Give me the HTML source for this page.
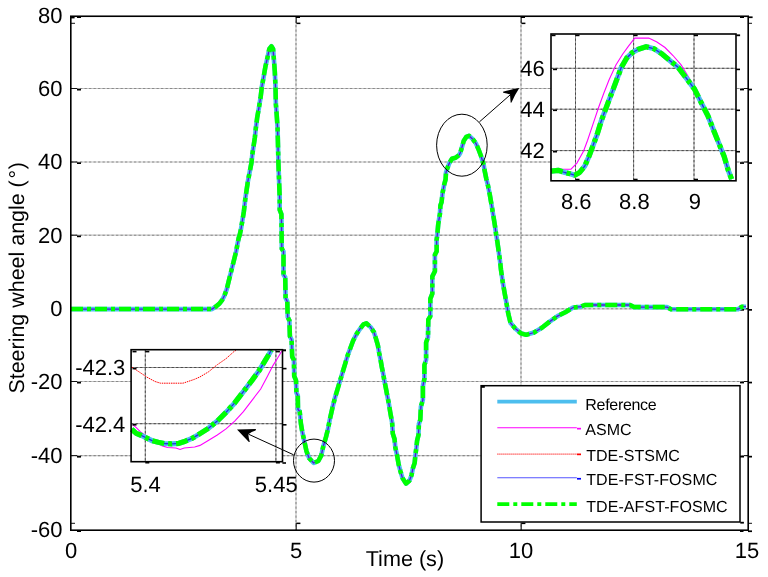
<!DOCTYPE html>
<html><head><meta charset="utf-8"><style>
html,body{margin:0;padding:0;background:#fff;}
svg{display:block;}
text{font-family:"Liberation Sans", sans-serif;fill:#000;text-rendering:geometricPrecision;}
svg{will-change:transform;}
</style></head><body>
<svg width="768" height="577" viewBox="0 0 768 577" font-family='"Liberation Sans", sans-serif'>
<rect x="0" y="0" width="768" height="577" fill="#fff"/>
<line x1="296" y1="16" x2="296" y2="529.8" stroke="#c4c4c4" stroke-width="1.2"/>
<line x1="296" y1="16" x2="296" y2="529.8" stroke="#8a8a8a" stroke-width="1.1" stroke-dasharray="2.3 2.2"/>
<line x1="521" y1="16" x2="521" y2="529.8" stroke="#c4c4c4" stroke-width="1.2"/>
<line x1="521" y1="16" x2="521" y2="529.8" stroke="#8a8a8a" stroke-width="1.1" stroke-dasharray="2.3 2.2"/>
<line x1="71" y1="88.5" x2="748" y2="88.5" stroke="#c4c4c4" stroke-width="1.2"/>
<line x1="71" y1="88.5" x2="748" y2="88.5" stroke="#8a8a8a" stroke-width="1.1" stroke-dasharray="2.3 2.2"/>
<line x1="71" y1="162" x2="748" y2="162" stroke="#c4c4c4" stroke-width="1.2"/>
<line x1="71" y1="162" x2="748" y2="162" stroke="#8a8a8a" stroke-width="1.1" stroke-dasharray="2.3 2.2"/>
<line x1="71" y1="235.2" x2="748" y2="235.2" stroke="#c4c4c4" stroke-width="1.2"/>
<line x1="71" y1="235.2" x2="748" y2="235.2" stroke="#8a8a8a" stroke-width="1.1" stroke-dasharray="2.3 2.2"/>
<line x1="71" y1="308.8" x2="748" y2="308.8" stroke="#c4c4c4" stroke-width="1.2"/>
<line x1="71" y1="308.8" x2="748" y2="308.8" stroke="#8a8a8a" stroke-width="1.1" stroke-dasharray="2.3 2.2"/>
<line x1="71" y1="381.5" x2="748" y2="381.5" stroke="#c4c4c4" stroke-width="1.2"/>
<line x1="71" y1="381.5" x2="748" y2="381.5" stroke="#8a8a8a" stroke-width="1.1" stroke-dasharray="2.3 2.2"/>
<line x1="71" y1="455.6" x2="748" y2="455.6" stroke="#c4c4c4" stroke-width="1.2"/>
<line x1="71" y1="455.6" x2="748" y2="455.6" stroke="#8a8a8a" stroke-width="1.1" stroke-dasharray="2.3 2.2"/>
<line x1="71" y1="88.5" x2="77" y2="88.5" stroke="#111" stroke-width="1"/>
<rect x="77" y="88.8" width="4" height="1.7" fill="#000"/>
<rect x="740" y="88.7" width="4" height="1.7" fill="#000"/>
<line x1="744" y1="88.5" x2="748" y2="88.5" stroke="#111" stroke-width="1"/>
<rect x="748" y="88.7" width="4" height="1.7" fill="#000"/>
<line x1="71" y1="162" x2="77" y2="162" stroke="#111" stroke-width="1"/>
<rect x="77" y="162.3" width="4" height="1.7" fill="#000"/>
<rect x="740" y="162.2" width="4" height="1.7" fill="#000"/>
<line x1="744" y1="162" x2="748" y2="162" stroke="#111" stroke-width="1"/>
<rect x="748" y="162.2" width="4" height="1.7" fill="#000"/>
<line x1="71" y1="235.2" x2="77" y2="235.2" stroke="#111" stroke-width="1"/>
<rect x="77" y="235.5" width="4" height="1.7" fill="#000"/>
<rect x="740" y="235.39999999999998" width="4" height="1.7" fill="#000"/>
<line x1="744" y1="235.2" x2="748" y2="235.2" stroke="#111" stroke-width="1"/>
<rect x="748" y="235.39999999999998" width="4" height="1.7" fill="#000"/>
<line x1="71" y1="308.8" x2="77" y2="308.8" stroke="#111" stroke-width="1"/>
<rect x="77" y="309.1" width="4" height="1.7" fill="#000"/>
<rect x="740" y="309.0" width="4" height="1.7" fill="#000"/>
<line x1="744" y1="308.8" x2="748" y2="308.8" stroke="#111" stroke-width="1"/>
<rect x="748" y="309.0" width="4" height="1.7" fill="#000"/>
<line x1="71" y1="381.5" x2="77" y2="381.5" stroke="#111" stroke-width="1"/>
<rect x="77" y="381.8" width="4" height="1.7" fill="#000"/>
<rect x="740" y="381.7" width="4" height="1.7" fill="#000"/>
<line x1="744" y1="381.5" x2="748" y2="381.5" stroke="#111" stroke-width="1"/>
<rect x="748" y="381.7" width="4" height="1.7" fill="#000"/>
<line x1="71" y1="455.6" x2="77" y2="455.6" stroke="#111" stroke-width="1"/>
<rect x="77" y="455.90000000000003" width="4" height="1.7" fill="#000"/>
<rect x="740" y="455.8" width="4" height="1.7" fill="#000"/>
<line x1="744" y1="455.6" x2="748" y2="455.6" stroke="#111" stroke-width="1"/>
<rect x="748" y="455.8" width="4" height="1.7" fill="#000"/>
<line x1="71" y1="23.3" x2="75" y2="23.3" stroke="#111" stroke-width="1"/>
<rect x="77" y="16.4" width="4" height="1.6" fill="#000"/>
<rect x="71" y="16.6" width="3.6" height="1.8" fill="#000"/>
<line x1="71" y1="523.3" x2="75" y2="523.3" stroke="#111" stroke-width="1"/>
<rect x="77" y="530.4" width="4" height="1.6" fill="#000"/>
<rect x="740" y="16.4" width="4" height="1.6" fill="#000"/>
<rect x="748" y="16.4" width="4.6" height="1.7" fill="#000"/>
<line x1="748" y1="23.3" x2="752" y2="23.3" stroke="#111" stroke-width="1"/>
<rect x="740" y="530.4" width="3.5" height="1.6" fill="#000"/>
<rect x="748" y="530.4" width="4" height="1.7" fill="#000"/>
<line x1="748" y1="523.3" x2="752" y2="523.3" stroke="#111" stroke-width="1"/>
<line x1="296.2" y1="16" x2="296.2" y2="23" stroke="#111" stroke-width="1"/>
<rect x="296" y="16.4" width="4" height="1.6" fill="#000"/>
<rect x="296.4" y="22.6" width="4" height="1.5" fill="#000"/>
<line x1="296.2" y1="523" x2="296.2" y2="530" stroke="#111" stroke-width="1"/>
<rect x="296.4" y="522.6" width="4" height="1.5" fill="#000"/>
<line x1="521.2" y1="16" x2="521.2" y2="23" stroke="#111" stroke-width="1"/>
<rect x="521" y="16.4" width="4" height="1.6" fill="#000"/>
<rect x="521.4" y="22.6" width="4" height="1.5" fill="#000"/>
<line x1="521.2" y1="523" x2="521.2" y2="530" stroke="#111" stroke-width="1"/>
<rect x="521.4" y="522.6" width="4" height="1.5" fill="#000"/>
<polyline points="71.0,309.1 212.0,309.1 216.0,306.5 219.5,303.5 222.3,299.8 224.5,295.5 226.7,289.4 228.5,282.0 231.0,272.0 233.0,264.0 235.0,256.0 236.2,251.2 237.5,244.0 238.7,238.0 239.7,235.0 241.0,229.0 242.3,221.0 243.8,212.0 245.4,198.0 248.0,180.7 251.5,162.5 252.3,154.7 254.9,137.3 255.8,128.6 257.1,118.2 258.9,107.8 260.6,97.4 261.8,87.0 263.7,76.6 265.5,66.2 267.5,57.5 269.3,48.9 271.4,46.3 273.1,48.9 274.0,61.0 274.8,71.4 275.5,87.0 275.9,104.4 276.7,114.8 277.6,128.6 278.4,162.5 279.7,198.0 279.7,209.8 281.4,214.2 281.8,248.8 283.5,251.4 283.5,274.7 285.2,277.3 285.6,298.1 287.3,301.6 287.7,317.1 289.4,320.6 289.9,336.2 291.6,339.7 292.2,356.7 293.9,360.1 294.2,376.1 296.0,380.3 296.4,392.8 297.8,395.6 298.0,409.4 299.7,411.5 300.9,423.6 302.3,431.9 304.4,441.6 306.5,451.3 309.2,458.2 313.7,463.0 318.3,461.0 321.3,455.4 323.1,447.1 325.9,437.4 328.0,429.1 329.7,420.0 332.3,408.4 334.9,398.0 337.5,389.3 340.1,380.7 342.7,372.0 345.3,363.3 347.9,354.7 350.5,347.7 353.1,340.8 356.6,333.9 360.1,328.7 363.5,324.3 366.3,323.3 370.6,327.1 374.0,332.3 376.1,339.2 377.9,345.3 379.2,353.1 380.6,360.0 381.8,367.0 383.2,373.9 384.4,380.8 385.8,387.7 387.4,396.4 388.8,403.3 390.2,412.0 392.1,422.5 392.8,433.6 394.6,439.2 395.3,447.5 396.9,454.4 398.6,464.2 400.4,471.1 402.5,478.1 406.0,483.6 409.4,480.8 411.5,475.3 412.9,468.3 414.7,462.8 415.3,455.8 416.4,447.5 417.1,440.6 418.5,435.0 418.9,423.9 420.3,419.7 420.9,406.7 422.9,399.7 422.9,385.9 424.4,378.9 424.4,365.1 426.1,359.9 426.1,342.5 428.0,337.3 428.3,319.7 430.3,316.3 430.3,298.9 432.3,293.7 432.3,276.4 434.9,271.2 434.9,254.7 436.7,251.3 436.6,240.0 437.3,234.8 438.2,224.5 439.0,219.3 439.9,214.1 440.4,205.4 441.6,202.0 442.5,193.3 444.2,184.6 445.6,179.4 446.0,172.5 447.7,167.3 449.4,163.0 452.0,158.7 455.5,157.8 459.0,155.2 460.3,152.8 462.1,146.7 463.8,140.7 466.4,136.8 469.0,135.8 472.5,138.9 475.9,143.3 478.5,149.3 481.1,156.3 483.7,164.9 484.5,170.0 486.3,178.7 488.0,185.6 489.7,194.2 491.5,204.6 493.2,215.0 494.9,225.4 496.1,234.1 497.5,242.7 498.7,251.4 500.1,261.8 501.0,270.0 502.8,282.5 504.7,293.4 506.7,304.4 508.3,313.8 510.6,323.1 515.3,328.6 520.8,333.3 526.2,334.8 534.0,332.5 541.9,327.8 549.7,321.6 557.5,316.1 565.3,312.2 573.1,307.5 580.9,306.7 584.8,305.0 630.0,305.0 634.0,307.1 667.0,307.1 671.0,309.2 738.0,309.2 742.0,306.7 746.0,306.7" fill="none" stroke="#4dbeee" stroke-width="4.6" stroke-linejoin="round"/>
<polyline points="71.0,309.1 212.0,309.1 216.0,306.5 219.5,303.5 222.3,299.8 224.5,295.5 226.7,289.4 228.5,282.0 231.0,272.0 233.0,264.0 235.0,256.0 236.2,251.2 237.5,244.0 238.7,238.0 239.7,235.0 241.0,229.0 242.3,221.0 243.8,212.0 245.4,198.0 248.0,180.7 251.5,162.5 252.3,154.7 254.9,137.3 255.8,128.6 257.1,118.2 258.9,107.8 260.6,97.4 261.8,87.0 263.7,76.6 265.5,66.2 267.5,57.5 269.3,48.9 271.4,46.3 273.1,48.9 274.0,61.0 274.8,71.4 275.5,87.0 275.9,104.4 276.7,114.8 277.6,128.6 278.4,162.5 279.7,198.0 279.7,209.8 281.4,214.2 281.8,248.8 283.5,251.4 283.5,274.7 285.2,277.3 285.6,298.1 287.3,301.6 287.7,317.1 289.4,320.6 289.9,336.2 291.6,339.7 292.2,356.7 293.9,360.1 294.2,376.1 296.0,380.3 296.4,392.8 297.8,395.6 298.0,409.4 299.7,411.5 300.9,423.6 302.3,431.9 304.4,441.6 306.5,451.3 309.2,458.2 313.7,463.0 318.3,461.0 321.3,455.4 323.1,447.1 325.9,437.4 328.0,429.1 329.7,420.0 332.3,408.4 334.9,398.0 337.5,389.3 340.1,380.7 342.7,372.0 345.3,363.3 347.9,354.7 350.5,347.7 353.1,340.8 356.6,333.9 360.1,328.7 363.5,324.3 366.3,323.3 370.6,327.1 374.0,332.3 376.1,339.2 377.9,345.3 379.2,353.1 380.6,360.0 381.8,367.0 383.2,373.9 384.4,380.8 385.8,387.7 387.4,396.4 388.8,403.3 390.2,412.0 392.1,422.5 392.8,433.6 394.6,439.2 395.3,447.5 396.9,454.4 398.6,464.2 400.4,471.1 402.5,478.1 406.0,483.6 409.4,480.8 411.5,475.3 412.9,468.3 414.7,462.8 415.3,455.8 416.4,447.5 417.1,440.6 418.5,435.0 418.9,423.9 420.3,419.7 420.9,406.7 422.9,399.7 422.9,385.9 424.4,378.9 424.4,365.1 426.1,359.9 426.1,342.5 428.0,337.3 428.3,319.7 430.3,316.3 430.3,298.9 432.3,293.7 432.3,276.4 434.9,271.2 434.9,254.7 436.7,251.3 436.6,240.0 437.3,234.8 438.2,224.5 439.0,219.3 439.9,214.1 440.4,205.4 441.6,202.0 442.5,193.3 444.2,184.6 445.6,179.4 446.0,172.5 447.7,167.3 449.4,163.0 452.0,158.7 455.5,157.8 459.0,155.2 460.3,152.8 462.1,146.7 463.8,140.7 466.4,136.8 469.0,135.8 472.5,138.9 475.9,143.3 478.5,149.3 481.1,156.3 483.7,164.9 484.5,170.0 486.3,178.7 488.0,185.6 489.7,194.2 491.5,204.6 493.2,215.0 494.9,225.4 496.1,234.1 497.5,242.7 498.7,251.4 500.1,261.8 501.0,270.0 502.8,282.5 504.7,293.4 506.7,304.4 508.3,313.8 510.6,323.1 515.3,328.6 520.8,333.3 526.2,334.8 534.0,332.5 541.9,327.8 549.7,321.6 557.5,316.1 565.3,312.2 573.1,307.5 580.9,306.7 584.8,305.0 630.0,305.0 634.0,307.1 667.0,307.1 671.0,309.2 738.0,309.2 742.0,306.7 746.0,306.7" fill="none" stroke="#5a12d6" stroke-width="1.3" stroke-linejoin="round"/>
<polyline points="71.0,309.1 212.0,309.1 216.0,306.5 219.5,303.5 222.3,299.8 224.5,295.5 226.7,289.4 228.5,282.0 231.0,272.0 233.0,264.0 235.0,256.0 236.2,251.2 237.5,244.0 238.7,238.0 239.7,235.0 241.0,229.0 242.3,221.0 243.8,212.0 245.4,198.0 248.0,180.7 251.5,162.5 252.3,154.7 254.9,137.3 255.8,128.6 257.1,118.2 258.9,107.8 260.6,97.4 261.8,87.0 263.7,76.6 265.5,66.2 267.5,57.5 269.3,48.9 271.4,46.3 273.1,48.9 274.0,61.0 274.8,71.4 275.5,87.0 275.9,104.4 276.7,114.8 277.6,128.6 278.4,162.5 279.7,198.0 279.7,209.8 281.4,214.2 281.8,248.8 283.5,251.4 283.5,274.7 285.2,277.3 285.6,298.1 287.3,301.6 287.7,317.1 289.4,320.6 289.9,336.2 291.6,339.7 292.2,356.7 293.9,360.1 294.2,376.1 296.0,380.3 296.4,392.8 297.8,395.6 298.0,409.4 299.7,411.5 300.9,423.6 302.3,431.9 304.4,441.6 306.5,451.3 309.2,458.2 313.7,463.0 318.3,461.0 321.3,455.4 323.1,447.1 325.9,437.4 328.0,429.1 329.7,420.0 332.3,408.4 334.9,398.0 337.5,389.3 340.1,380.7 342.7,372.0 345.3,363.3 347.9,354.7 350.5,347.7 353.1,340.8 356.6,333.9 360.1,328.7 363.5,324.3 366.3,323.3 370.6,327.1 374.0,332.3 376.1,339.2 377.9,345.3 379.2,353.1 380.6,360.0 381.8,367.0 383.2,373.9 384.4,380.8 385.8,387.7 387.4,396.4 388.8,403.3 390.2,412.0 392.1,422.5 392.8,433.6 394.6,439.2 395.3,447.5 396.9,454.4 398.6,464.2 400.4,471.1 402.5,478.1 406.0,483.6 409.4,480.8 411.5,475.3 412.9,468.3 414.7,462.8 415.3,455.8 416.4,447.5 417.1,440.6 418.5,435.0 418.9,423.9 420.3,419.7 420.9,406.7 422.9,399.7 422.9,385.9 424.4,378.9 424.4,365.1 426.1,359.9 426.1,342.5 428.0,337.3 428.3,319.7 430.3,316.3 430.3,298.9 432.3,293.7 432.3,276.4 434.9,271.2 434.9,254.7 436.7,251.3 436.6,240.0 437.3,234.8 438.2,224.5 439.0,219.3 439.9,214.1 440.4,205.4 441.6,202.0 442.5,193.3 444.2,184.6 445.6,179.4 446.0,172.5 447.7,167.3 449.4,163.0 452.0,158.7 455.5,157.8 459.0,155.2 460.3,152.8 462.1,146.7 463.8,140.7 466.4,136.8 469.0,135.8 472.5,138.9 475.9,143.3 478.5,149.3 481.1,156.3 483.7,164.9 484.5,170.0 486.3,178.7 488.0,185.6 489.7,194.2 491.5,204.6 493.2,215.0 494.9,225.4 496.1,234.1 497.5,242.7 498.7,251.4 500.1,261.8 501.0,270.0 502.8,282.5 504.7,293.4 506.7,304.4 508.3,313.8 510.6,323.1 515.3,328.6 520.8,333.3 526.2,334.8 534.0,332.5 541.9,327.8 549.7,321.6 557.5,316.1 565.3,312.2 573.1,307.5 580.9,306.7 584.8,305.0 630.0,305.0 634.0,307.1 667.0,307.1 671.0,309.2 738.0,309.2 742.0,306.7 746.0,306.7" fill="none" stroke="#00ff00" stroke-width="4.5" stroke-dasharray="12 4 4 4" stroke-linejoin="round"/>

<rect x="70.8" y="16.25" width="677.4" height="513.95" fill="none" stroke="#000" stroke-width="1.6"/>
<text transform="translate(62.50,23.40) scale(1,1)" font-size="22" text-anchor="end">80</text>
<text transform="translate(62.50,95.80) scale(1,1)" font-size="22" text-anchor="end">60</text>
<text transform="translate(62.50,169.30) scale(1,1)" font-size="22" text-anchor="end">40</text>
<text transform="translate(62.50,242.50) scale(1,1)" font-size="22" text-anchor="end">20</text>
<text transform="translate(62.50,316.10) scale(1,1)" font-size="22" text-anchor="end">0</text>
<text transform="translate(62.50,388.80) scale(1,1)" font-size="22" text-anchor="end">-20</text>
<text transform="translate(62.50,462.90) scale(1,1)" font-size="22" text-anchor="end">-40</text>
<text transform="translate(62.50,537.10) scale(1,1)" font-size="22" text-anchor="end">-60</text>
<text transform="translate(71.00,557.60) scale(1,1)" font-size="22" text-anchor="middle">0</text>
<text transform="translate(296.00,557.60) scale(1,1)" font-size="22" text-anchor="middle">5</text>
<text transform="translate(521.00,557.60) scale(1,1)" font-size="22" text-anchor="middle">10</text>
<text transform="translate(747.00,557.60) scale(1,1)" font-size="22" text-anchor="middle">15</text>
<text transform="translate(404.90,565.70) scale(1,1)" font-size="21.6" text-anchor="middle">Time (s)</text>
<text transform="translate(23.9,277.8) rotate(-90)" font-size="21.45" text-anchor="middle">Steering wheel angle (<tspan dx="1.7">°</tspan><tspan dx="0.8">)</tspan></text>
<rect x="551" y="34" width="185" height="146.8" fill="#fff"/>
<g>
<line x1="575.5" y1="34" x2="575.5" y2="180.8" stroke="#8e8e8e" stroke-width="1"/>
<line x1="575.5" y1="34" x2="575.5" y2="180.8" stroke="#4a4a4a" stroke-width="1" stroke-dasharray="2.3 2.2"/>
<line x1="633.6" y1="34" x2="633.6" y2="180.8" stroke="#8e8e8e" stroke-width="1"/>
<line x1="633.6" y1="34" x2="633.6" y2="180.8" stroke="#4a4a4a" stroke-width="1" stroke-dasharray="2.3 2.2"/>
<line x1="694" y1="34" x2="694" y2="180.8" stroke="#8e8e8e" stroke-width="1"/>
<line x1="694" y1="34" x2="694" y2="180.8" stroke="#4a4a4a" stroke-width="1" stroke-dasharray="2.3 2.2"/>
<line x1="551" y1="68.3" x2="736" y2="68.3" stroke="#8e8e8e" stroke-width="1"/>
<line x1="551" y1="68.3" x2="736" y2="68.3" stroke="#4a4a4a" stroke-width="1" stroke-dasharray="2.3 2.2"/>
<line x1="551" y1="109.2" x2="736" y2="109.2" stroke="#8e8e8e" stroke-width="1"/>
<line x1="551" y1="109.2" x2="736" y2="109.2" stroke="#4a4a4a" stroke-width="1" stroke-dasharray="2.3 2.2"/>
<line x1="551" y1="150.6" x2="736" y2="150.6" stroke="#8e8e8e" stroke-width="1"/>
<line x1="551" y1="150.6" x2="736" y2="150.6" stroke="#4a4a4a" stroke-width="1" stroke-dasharray="2.3 2.2"/>
<polyline points="551.0,169.2 571.0,169.2 576.9,163.1 583.6,151.0 587.6,140.2 593.0,124.1 598.4,108.0 603.8,93.2 609.1,79.7 615.9,64.9 622.6,54.2 628.5,46.1 634.7,38.1 648.8,38.1 656.9,42.1 665.0,47.5 673.0,55.5 681.1,64.9 687.8,75.7 693.2,85.1 697.0,91.0" fill="none" stroke="#ff00ff" stroke-width="1.1"/>
<polyline points="551.0,171.1 558.1,170.3 564.8,172.5 570.2,173.8 574.7,175.2 579.6,172.5 584.9,165.8 589.0,156.3 593.0,145.6 597.0,134.8 601.1,121.4 605.1,110.6 609.1,99.9 613.2,89.1 617.2,78.4 621.2,67.6 626.6,58.2 632.0,52.8 638.4,49.2 646.1,46.7 654.2,48.8 662.3,54.2 670.3,60.9 678.4,67.6 686.5,78.4 694.5,89.1 701.2,102.6 708.0,116.0 713.3,129.5 718.7,142.9 724.1,156.3 728.1,169.8 731.6,179.2" fill="none" stroke="#4dbeee" stroke-width="5.2" stroke-linejoin="round"/>
<polyline points="551.0,171.1 558.1,170.3 564.8,172.5 570.2,173.8 574.7,175.2 579.6,172.5 584.9,165.8 589.0,156.3 593.0,145.6 597.0,134.8 601.1,121.4 605.1,110.6 609.1,99.9 613.2,89.1 617.2,78.4 621.2,67.6 626.6,58.2 632.0,52.8 638.4,49.2 646.1,46.7 654.2,48.8 662.3,54.2 670.3,60.9 678.4,67.6 686.5,78.4 694.5,89.1 701.2,102.6 708.0,116.0 713.3,129.5 718.7,142.9 724.1,156.3 728.1,169.8 731.6,179.2" fill="none" stroke="#2a2ae0" stroke-width="1.3" stroke-linejoin="round"/>
<polyline points="551.0,171.1 558.1,170.3 564.8,172.5 570.2,173.8 574.7,175.2 579.6,172.5 584.9,165.8 589.0,156.3 593.0,145.6 597.0,134.8 601.1,121.4 605.1,110.6 609.1,99.9 613.2,89.1 617.2,78.4 621.2,67.6 626.6,58.2 632.0,52.8 638.4,49.2 646.1,46.7 654.2,48.8 662.3,54.2 670.3,60.9 678.4,67.6 686.5,78.4 694.5,89.1 701.2,102.6 708.0,116.0 713.3,129.5 718.7,142.9 724.1,156.3 728.1,169.8 731.6,179.2" fill="none" stroke="#00ff00" stroke-width="5.2" stroke-dasharray="12 4 4 4" stroke-linejoin="round"/>

</g>
<rect x="551" y="34" width="185" height="146.8" fill="none" stroke="#000" stroke-width="1.6"/>
<rect x="553" y="68.6" width="4" height="1.6" fill="#000"/>
<rect x="736" y="68.6" width="4" height="1.6" fill="#000"/>
<rect x="553" y="109.5" width="4" height="1.6" fill="#000"/>
<rect x="736" y="109.5" width="4" height="1.6" fill="#000"/>
<rect x="553" y="150.9" width="4" height="1.6" fill="#000"/>
<rect x="736" y="150.9" width="4" height="1.6" fill="#000"/>
<rect x="575.5" y="34.6" width="4" height="1.6" fill="#000"/>
<rect x="575.5" y="178.7" width="4" height="1.5" fill="#000"/>
<rect x="633.6" y="34.6" width="4" height="1.6" fill="#000"/>
<rect x="633.6" y="178.7" width="4" height="1.5" fill="#000"/>
<rect x="694" y="34.6" width="4" height="1.6" fill="#000"/>
<rect x="694" y="178.7" width="4" height="1.5" fill="#000"/>
<rect x="551.5" y="34.6" width="4" height="1.6" fill="#000"/>
<rect x="736.3" y="34.4" width="3.8" height="1.8" fill="#000"/>
<text transform="translate(544.80,76.10) scale(1,1)" font-size="22" text-anchor="end">46</text>
<text transform="translate(544.80,117.00) scale(1,1)" font-size="22" text-anchor="end">44</text>
<text transform="translate(544.80,158.40) scale(1,1)" font-size="22" text-anchor="end">42</text>
<text transform="translate(576.30,208.90) scale(1,1)" font-size="22" text-anchor="middle">8.6</text>
<text transform="translate(634.40,208.90) scale(1,1)" font-size="22" text-anchor="middle">8.8</text>
<text transform="translate(694.80,208.90) scale(1,1)" font-size="22" text-anchor="middle">9</text>
<rect x="131.1" y="349.7" width="151.4" height="112" fill="#fff"/>
<line x1="145.3" y1="350.1" x2="145.3" y2="461.7" stroke="#8e8e8e" stroke-width="1"/>
<line x1="145.3" y1="350.1" x2="145.3" y2="461.7" stroke="#4a4a4a" stroke-width="1" stroke-dasharray="2.3 2.2"/>
<line x1="275.9" y1="350.1" x2="275.9" y2="461.7" stroke="#8e8e8e" stroke-width="1"/>
<line x1="275.9" y1="350.1" x2="275.9" y2="461.7" stroke="#4a4a4a" stroke-width="1" stroke-dasharray="2.3 2.2"/>
<line x1="131.1" y1="367.5" x2="282.5" y2="367.5" stroke="#8e8e8e" stroke-width="1"/>
<line x1="131.1" y1="367.5" x2="282.5" y2="367.5" stroke="#4a4a4a" stroke-width="1" stroke-dasharray="2.3 2.2"/>
<line x1="131.1" y1="423.7" x2="282.5" y2="423.7" stroke="#8e8e8e" stroke-width="1"/>
<line x1="131.1" y1="423.7" x2="282.5" y2="423.7" stroke="#4a4a4a" stroke-width="1" stroke-dasharray="2.3 2.2"/>
<polyline points="131.7,367.0 140.0,372.5 147.0,377.2 155.0,381.5 160.5,383.2 183.0,383.2 194.3,379.4 200.0,376.9 208.7,371.7 217.3,364.7 226.0,358.7 233.8,351.7 236.0,350.3" fill="none" stroke="#ff0000" stroke-width="1" stroke-dasharray="1.5 0.8"/>
<polyline points="132.7,424.6 136.3,427.7 140.5,431.9 145.7,435.5 150.9,439.7 157.2,443.3 162.4,445.9 167.6,447.5 175.9,448.0 180.1,449.4 184.2,448.0 194.7,447.0 200.0,445.4 208.7,440.2 217.3,435.0 226.0,428.9 234.7,421.1 243.4,411.6 252.0,400.3 260.7,389.0 267.6,376.0 272.9,365.6 277.2,358.7 281.8,351.0" fill="none" stroke="#ff00ff" stroke-width="1.1"/>
<polyline points="131.6,429.3 136.3,433.4 141.5,435.5 146.8,438.1 152.0,440.7 158.2,442.3 164.5,443.5 171.8,443.9 179.0,443.3 185.3,441.2 192.6,438.1 200.0,433.6 208.7,428.1 217.3,421.1 226.0,412.4 234.7,402.9 243.4,391.6 252.0,380.4 259.0,370.8 264.2,362.1 269.4,353.5 271.3,350.0" fill="none" stroke="#4dbeee" stroke-width="5.2" stroke-linejoin="round"/>
<polyline points="131.6,429.3 136.3,433.4 141.5,435.5 146.8,438.1 152.0,440.7 158.2,442.3 164.5,443.5 171.8,443.9 179.0,443.3 185.3,441.2 192.6,438.1 200.0,433.6 208.7,428.1 217.3,421.1 226.0,412.4 234.7,402.9 243.4,391.6 252.0,380.4 259.0,370.8 264.2,362.1 269.4,353.5 271.3,350.0" fill="none" stroke="#2a2ae0" stroke-width="1.3" stroke-linejoin="round"/>
<polyline points="131.6,429.3 136.3,433.4 141.5,435.5 146.8,438.1 152.0,440.7 158.2,442.3 164.5,443.5 171.8,443.9 179.0,443.3 185.3,441.2 192.6,438.1 200.0,433.6 208.7,428.1 217.3,421.1 226.0,412.4 234.7,402.9 243.4,391.6 252.0,380.4 259.0,370.8 264.2,362.1 269.4,353.5 271.3,350.0" fill="none" stroke="#00ff00" stroke-width="5.2" stroke-dasharray="12 4 4 4" stroke-linejoin="round"/>

<rect x="131.1" y="349.7" width="151.4" height="112" fill="none" stroke="#000" stroke-width="1.6"/>
<rect x="132.5" y="367.8" width="4" height="1.6" fill="#000"/>
<rect x="282.7" y="367.8" width="3.8" height="1.6" fill="#000"/>
<rect x="132.5" y="424.0" width="4" height="1.6" fill="#000"/>
<rect x="282.7" y="424.0" width="3.8" height="1.6" fill="#000"/>
<rect x="145.3" y="350.8" width="4" height="1.6" fill="#000"/>
<rect x="145.3" y="461.9" width="4" height="1.6" fill="#000"/>
<rect x="275.9" y="350.8" width="4" height="1.6" fill="#000"/>
<rect x="275.9" y="461.9" width="4" height="1.6" fill="#000"/>
<rect x="132.5" y="350.8" width="4" height="1.6" fill="#000"/>
<rect x="282.4" y="462.2" width="3.6" height="1.6" fill="#000"/>
<rect x="282.4" y="349.3" width="3.6" height="2" fill="#000"/>
<text transform="translate(125.30,375.30) scale(1,1)" font-size="22" text-anchor="end">-42.3</text>
<text transform="translate(125.30,431.50) scale(1,1)" font-size="22" text-anchor="end">-42.4</text>
<text transform="translate(145.50,491.80) scale(1,1)" font-size="22" text-anchor="middle">5.4</text>
<text transform="translate(276.20,491.80) scale(1,1)" font-size="22" text-anchor="middle">5.45</text>
<ellipse cx="461.9" cy="145.2" rx="25.3" ry="31" fill="none" stroke="#000" stroke-width="1"/>
<ellipse cx="314" cy="460.6" rx="20.5" ry="21.5" fill="none" stroke="#000" stroke-width="1"/>
<line x1="479.4" y1="121.9" x2="510.5" y2="94.6" stroke="#000" stroke-width="1"/>
<path d="M519.3,88.1 Q511,89.6 503,91.7 L503.2,92.7 Q507,93.3 510,94.6 Q510.3,98.5 510.7,102.7 L511.5,102.5 Q514.8,95 519.3,88.1 Z" fill="#000"/>
<line x1="293.6" y1="454.8" x2="248.5" y2="434.2" stroke="#000" stroke-width="1"/>
<path d="M237,429.4 L256,429 L255.6,430.6 Q251.5,431.8 248.3,434.2 Q248.6,438 249.8,441.9 L248.9,442 Q243,435.8 237,429.4 Z" fill="#000"/>
<rect x="481.1" y="385.7" width="258.9" height="136.3" fill="#fff" stroke="#000" stroke-width="1.5"/>
<rect x="481" y="385.5" width="3.8" height="2.3" fill="#000"/>
<rect x="740.3" y="521.8" width="3.6" height="1.8" fill="#000"/>
<line x1="497.3" y1="401.7" x2="576.8" y2="401.7" stroke="#4dbeee" stroke-width="3.8"/>
<line x1="497.3" y1="427.7" x2="576.8" y2="427.7" stroke="#ff00ff" stroke-width="1.1"/>
<line x1="497.3" y1="454.1" x2="576.8" y2="454.1" stroke="#ff0000" stroke-width="1" stroke-dasharray="1.2 0.8"/>
<line x1="497.3" y1="477.8" x2="576.8" y2="477.8" stroke="#5555ff" stroke-width="1.1"/>
<line x1="497.3" y1="504.2" x2="576.8" y2="504.2" stroke="#00ff00" stroke-width="3.8" stroke-dasharray="12 4 4 4"/>
<rect x="577" y="427.8" width="4" height="1.7" fill="#ff00ff"/>
<rect x="577" y="453.5" width="4" height="1.7" fill="#ff0000"/>
<rect x="577" y="477.90000000000003" width="4" height="1.7" fill="#0000ff"/>
<text x="585.3" y="410" font-size="16" letter-spacing="-0.3">Reference</text>
<text x="585.3" y="435.4" font-size="16" letter-spacing="0">ASMC</text>
<text x="586.2" y="461.4" font-size="16" letter-spacing="0.05">TDE-STSMC</text>
<text x="586.2" y="485.1" font-size="16" letter-spacing="0.12">TDE-FST-FOSMC</text>
<text x="586.2" y="511.6" font-size="16" letter-spacing="0.08">TDE-AFST-FOSMC</text>
</svg>
</body></html>
